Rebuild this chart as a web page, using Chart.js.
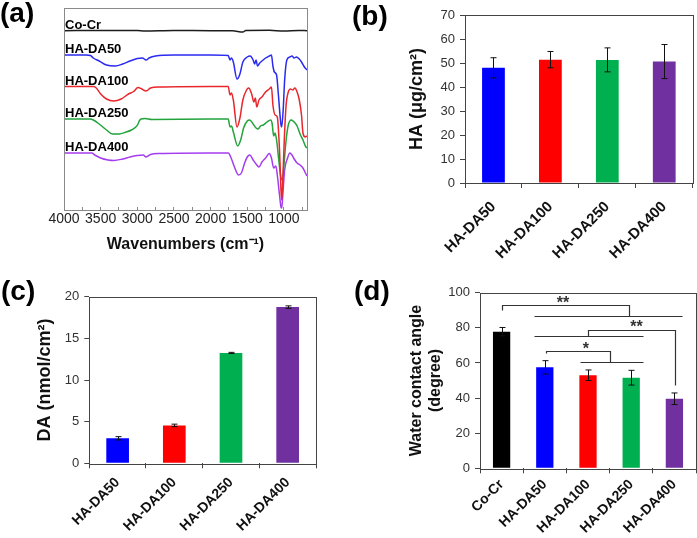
<!DOCTYPE html>
<html><head><meta charset="utf-8">
<script src="https://cdn.jsdelivr.net/npm/chart.js@4.4.0/dist/chart.umd.min.js"></script>
<style>
html,body{margin:0;padding:0;background:#fff;}
body{width:697px;height:538px;position:relative;overflow:hidden;font-family:"Liberation Sans",Arial,sans-serif;}
canvas{position:absolute;}
.lbl{position:absolute;font-weight:bold;font-size:28px;line-height:28px;color:#000;white-space:nowrap;}
</style></head><body>
<canvas id="ca" width="350" height="270" style="left:0;top:0"></canvas>
<canvas id="cb" width="347" height="270" style="left:350px;top:0"></canvas>
<canvas id="cc" width="350" height="268" style="left:0;top:270px"></canvas>
<canvas id="cd" width="347" height="268" style="left:350px;top:270px"></canvas>
<div class="lbl" style="left:0;top:-1px">(a)</div>
<div class="lbl" style="left:352px;top:2px">(b)</div>
<div class="lbl" style="left:1px;top:277px">(c)</div>
<div class="lbl" style="left:354px;top:277px">(d)</div>
<script>
// ---------- (a) FTIR spectra: [wavenumber, transmittance (a.u., offset)] ----------
const ftirNames = ['Co-Cr','HA-DA50','HA-DA100','HA-DA250','HA-DA400'];
const ftirColors = ['#1c1c1c','#2a2af0','#e8262b','#22a33c','#a53cf0'];
const ftirCoCr = [[4000,179.3],[3500,179.5],[3000,179.4],[2900,179],[2500,179.5],[2000,179.3],[1700,179.2],[1560,178],[1520,179.5],[1200,179.7],[1000,179],[800,179.5],[685,179.3]];
const ftirDA50 = [[4000,155],[3700,155],[3640,154.5],[3600,152],[3520,149],[3420,145],[3300,144],[3200,146],[3100,149],[3000,151.5],[2930,152],[2880,150],[2840,152],[2750,154],[2500,155],[2000,155],[1760,154.5],[1735,150],[1715,152],[1690,148],[1640,131],[1600,136],[1560,148],[1500,153],[1460,154],[1420,150],[1400,146],[1380,150],[1360,144],[1330,147],[1300,149],[1250,152],[1200,154],[1170,155],[1150,144],[1130,138],[1100,135],[1075,115],[1040,85],[1030,83],[1010,100],[990,130],[960,150],[920,153],[890,154],[860,152],[830,153],[790,151],[760,148],[720,143],[685,140]];
const ftirDA100 = [[4000,123.5],[3600,123.5],[3560,122],[3500,116],[3420,111],[3320,109],[3220,111],[3120,116],[3050,118.5],[2990,122.5],[2940,121],[2880,119],[2820,122],[2700,123],[2000,123.5],[1760,123.5],[1735,115],[1715,117],[1690,110],[1640,83],[1600,92],[1560,110],[1510,120],[1480,122],[1440,116],[1410,108],[1390,112],[1370,103],[1340,110],[1300,113],[1250,118],[1200,121],[1170,123],[1150,105],[1120,95],[1090,93],[1060,60],[1040,20],[1030,10],[1015,30],[995,70],[970,105],[940,118],[910,121],[880,120],[850,122],[820,118],[790,110],[760,95],[740,77],[710,73],[685,74]];
const ftirDA250 = [[4000,91],[3640,91],[3600,90],[3520,86],[3420,80],[3340,76],[3250,76],[3150,78],[3080,80],[3020,83],[2990,86],[2970,89.5],[2950,91],[2900,91.5],[2800,90.5],[2000,91],[1760,91],[1735,83],[1715,84],[1690,78],[1630,64],[1590,70],[1550,82],[1500,89],[1466,90],[1420,86],[1380,82],[1350,81],[1320,84],[1280,85],[1230,88],[1180,90],[1160,86],[1140,74],[1120,77],[1100,70],[1070,50],[1040,32],[1020,30],[1000,45],[970,70],[940,85],[900,90],[860,88],[820,84],[780,76],[740,70],[700,63],[685,62]];
const ftirDA400 = [[4000,57],[3620,57],[3580,55],[3500,52],[3400,50],[3320,49.5],[3200,51],[3100,53],[3000,54.5],[2920,55],[2880,53],[2820,55.5],[2700,56.5],[2000,57],[1760,57],[1720,52],[1680,44],[1620,35],[1580,37],[1540,46],[1500,53],[1466,55],[1420,50],[1380,46],[1340,43],[1300,48],[1250,52],[1200,56.5],[1170,52],[1140,42],[1110,44],[1090,35],[1060,15],[1040,3],[1030,2],[1015,15],[990,40],[950,52],[920,57],[890,55],[860,51],[820,47],[780,45],[740,42],[700,36],[685,34]];
const ftirSeries = [ftirCoCr, ftirDA50, ftirDA100, ftirDA250, ftirDA400];
const ftirTicks = [4000,3750,3500,3250,3000,2750,2500,2250,2000,1750,1500,1250,1000,750];

// ---------- (b) HA amount ----------
const samples = ['HA-DA50','HA-DA100','HA-DA250','HA-DA400'];
const haValues = [48.0, 51.4, 51.3, 50.6];
const haErrors = [4.2, 3.4, 5.0, 7.1];
// ---------- (c) DA amount ----------
const daValues = [3.0, 4.55, 13.25, 18.75];
const daErrors = [0.2, 0.15, 0.07, 0.15];
// ---------- (d) water contact angle ----------
const wcaCategories = ['Co-Cr','HA-DA50','HA-DA100','HA-DA250','HA-DA400'];
const wcaValues = [77.8, 57.5, 53.0, 51.6, 39.6];
const wcaErrors = [2.4, 3.8, 3.0, 4.2, 3.3];
const sigLines = [
  [[0,90.2],[0,93],[2.94,93],[2.94,86.7]],
  [[0.75,86.7],[4.18,86.7]],
  [[0.75,75.3],[3.27,75.3]],
  [[2.0,75.3],[2.0,78.8],[4.02,78.8],[4.02,47.4]],
  [[1.81,60.4],[3.27,60.4]],
  [[1.02,65.5],[1.02,66.8],[2.52,66.8],[2.52,60.4]]
];
const sigStars = [['**',1.42,96.4],['**',3.12,82.6],['*',1.95,70.2]];

const barColors = ['#0000ff','#ff0000','#00b050','#7030a0'];
const wcaColors = ['#000000'].concat(barColors);

const FONT = '"Liberation Sans", Arial, sans-serif';
Chart.defaults.font.family = FONT;

function fixAxis(w, h) {
  return function (s) {
    if (w != null) s.width = w;
    if (h != null) s.height = h;
    s.paddingLeft = 0; s.paddingRight = 0; s.paddingTop = 0; s.paddingBottom = 0;
  };
}

const framePlugin = {
  id: 'frame',
  afterDraw(chart, args, opts) {
    const a = chart.chartArea, ctx = chart.ctx;
    ctx.save();
    ctx.strokeStyle = opts.color || '#333';
    ctx.lineWidth = 1;
    ctx.strokeRect(Math.round(a.left) + 0.5, Math.round(a.top) + 0.5, Math.round(a.right - a.left), Math.round(a.bottom - a.top));
    ctx.restore();
  }
};

const traceLabelPlugin = {
  id: 'traceLabels',
  afterDatasetsDraw(chart, args, opts) {
    const ctx = chart.ctx, ys = chart.scales.y;
    ctx.save();
    ctx.font = 'bold 13px ' + FONT;
    ctx.fillStyle = '#000';
    ctx.textAlign = 'left';
    ctx.textBaseline = 'alphabetic';
    chart.data.datasets.forEach(ds => {
      ctx.fillText(ds.label, chart.chartArea.left + 1, ys.getPixelForValue(ds.data[0].y) - 2);
    });
    ctx.restore();
  }
};

const errPlugin = {
  id: 'errbars',
  afterDatasetsDraw(chart, args, opts) {
    const meta = chart.getDatasetMeta(0), ys = chart.scales.y, ctx = chart.ctx;
    const vals = chart.data.datasets[0].data;
    ctx.save();
    ctx.strokeStyle = '#111';
    ctx.lineWidth = 1;
    meta.data.forEach((bar, i) => {
      const e = opts.errors[i], v = vals[i];
      const x = Math.round(bar.x) + 0.5;
      const yt = ys.getPixelForValue(v + e), yb = ys.getPixelForValue(v - e);
      const c = opts.cap || 3;
      ctx.beginPath();
      ctx.moveTo(x, yt); ctx.lineTo(x, yb);
      ctx.moveTo(x - c, yt); ctx.lineTo(x + c, yt);
      ctx.moveTo(x - c, yb); ctx.lineTo(x + c, yb);
      ctx.stroke();
    });
    ctx.restore();
  }
};

const sigPlugin = {
  id: 'sig',
  afterDatasetsDraw(chart, args, opts) {
    if (!opts.lines) return;
    const xs = chart.scales.x, ys = chart.scales.y, ctx = chart.ctx;
    ctx.save();
    ctx.strokeStyle = '#333';
    ctx.lineWidth = 1.2;
    opts.lines.forEach(pl => {
      ctx.beginPath();
      pl.forEach((p, k) => {
        const X = Math.round(xs.getPixelForValue(p[0])) + 0.5, Y = Math.round(ys.getPixelForValue(p[1])) + 0.5;
        if (k) ctx.lineTo(X, Y); else ctx.moveTo(X, Y);
      });
      ctx.stroke();
    });
    ctx.fillStyle = '#333';
    ctx.font = 'bold 16px ' + FONT;
    ctx.textAlign = 'center';
    ctx.textBaseline = 'alphabetic';
    opts.stars.forEach(s => {
      ctx.fillText(s[0], xs.getPixelForValue(s[1]), ys.getPixelForValue(s[2]) + 9);
    });
    ctx.restore();
  }
};

// ---------- panel (a) ----------
new Chart(document.getElementById('ca'), {
  type: 'line',
  data: {
    datasets: ftirSeries.map((s, k) => ({
      label: ftirNames[k],
      data: s.map(p => ({ x: p[0], y: p[1] })),
      borderColor: ftirColors[k],
      borderWidth: 1.5,
      pointRadius: 0,
      cubicInterpolationMode: 'monotone',
      fill: false
    }))
  },
  options: {
    responsive: false, animation: false,
    layout: { padding: { left: 64, right: 43, top: 8, bottom: 0 } },
    plugins: { legend: { display: false }, tooltip: { enabled: false }, frame: { color: '#8a8a8a' } },
    scales: {
      x: {
        type: 'linear', reverse: true, min: 685, max: 4000,
        afterBuildTicks: s => { s.ticks = ftirTicks.map(v => ({ value: v })); },
        afterFit: fixAxis(null, 60),
        border: { display: false },
        grid: { drawOnChartArea: false, drawTicks: true, tickLength: -3, tickColor: '#8a8a8a' },
        ticks: { autoSkip: false, maxRotation: 0, minRotation: 0, padding: 4, color: '#222', font: { size: 14 },
          callback: v => (v % 500 === 0 ? String(v) : '') },
        title: { display: true, text: 'Wavenumbers (cm⁻¹)', color: '#111', font: { size: 16, weight: 'bold' }, padding: { top: 0, bottom: 16 } }
      },
      y: { display: false, min: 0, max: 202 }
    }
  },
  plugins: [framePlugin, traceLabelPlugin]
});

// ---------- bar panels ----------
function barChart(id, cats, vals, errs, colors, cfg) {
  return new Chart(document.getElementById(id), {
    type: 'bar',
    data: { labels: cats, datasets: [{ data: vals, backgroundColor: colors, barPercentage: 0.4, categoryPercentage: 1, borderWidth: 0 }] },
    options: {
      responsive: false, animation: false,
      layout: { padding: cfg.padding },
      plugins: { legend: { display: false }, tooltip: { enabled: false }, frame: { color: '#444' },
        errbars: { errors: errs, cap: 3 }, sig: cfg.sig || {} },
      scales: {
        x: {
          afterFit: fixAxis(null, cfg.xHeight),
          border: { display: false },
          grid: { drawOnChartArea: false, drawTicks: true, tickLength: 5, tickColor: '#444', offset: true },
          ticks: { autoSkip: false, maxRotation: 45, minRotation: 45, padding: cfg.xPad, color: '#111', font: { size: cfg.xFont, weight: 'bold' } }
        },
        y: {
          min: 0, max: cfg.yMax,
          afterFit: fixAxis(cfg.yWidth, null),
          border: { display: false },
          grid: { drawOnChartArea: false, drawTicks: true, tickLength: 5, tickColor: '#444' },
          ticks: { stepSize: cfg.yStep, padding: 5, color: '#333', font: { size: cfg.yFont } },
          title: { display: true, text: cfg.yTitle, color: '#111', font: { size: cfg.titleFont, weight: 'bold' }, padding: 0 }
        }
      }
    },
    plugins: [framePlugin, errPlugin, sigPlugin]
  });
}

barChart('cb', samples, haValues, haErrors, barColors, {
  padding: { left: 56.7, right: 4.3, top: 15, bottom: 0 }, yWidth: 58.3, xHeight: 87,
  yMax: 70, yStep: 10, yTitle: 'HA (μg/cm²)', titleFont: 18, xFont: 15, xPad: 10, yFont: 13
});
barChart('cc', samples, daValues, daErrors, barColors, {
  padding: { left: 34.7, right: 34, top: 26.7, bottom: 0 }, yWidth: 54.6, xHeight: 74.7,
  yMax: 20, yStep: 5, yTitle: 'DA (nmol/cm²)', titleFont: 18, xFont: 14, xPad: 6, yFont: 13
});
barChart('cd', wcaCategories, wcaValues, wcaErrors, wcaColors, {
  padding: { left: 56.8, right: 1, top: 22.7, bottom: 0 }, yWidth: 73.2, xHeight: 69.7,
  yMax: 100, yStep: 20, yTitle: ['Water contact angle', '(degree)'], titleFont: 16, xFont: 14, xPad: 3, yFont: 13,
  sig: { lines: sigLines, stars: sigStars }
});
</script>
</body></html>
